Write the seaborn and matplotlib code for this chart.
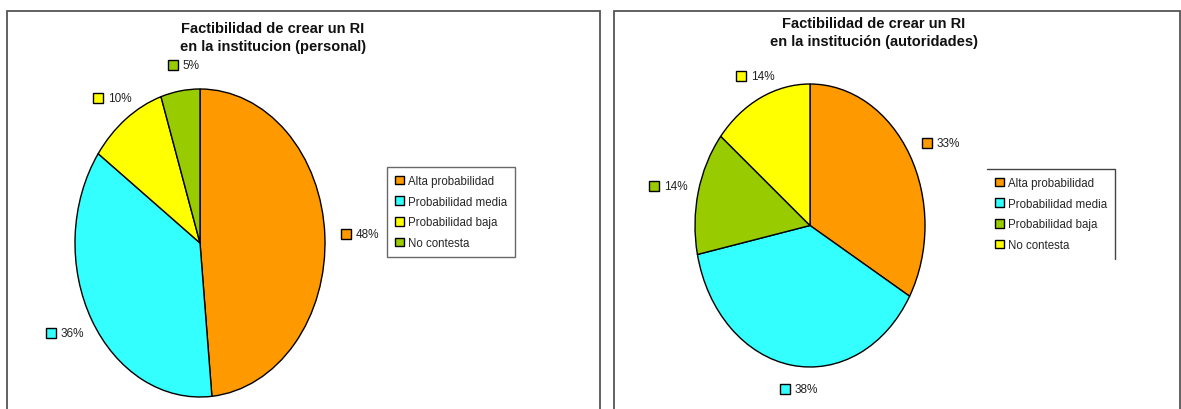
import numpy as np
import matplotlib
matplotlib.use("Agg")
import matplotlib.pyplot as plt
from matplotlib.patches import Rectangle
from matplotlib.lines import Line2D
import seaborn as sns

sns.set_style("white")
plt.rcParams["font.family"] = ["Liberation Sans", "DejaVu Sans"]

# data
labels_personal = ["Alta probabilidad", "Probabilidad media", "Probabilidad baja", "No contesta"]
pct_personal = [48, 36, 10, 5]
colors_personal = ["#FF9900", "#33FFFF", "#FFFF00", "#99CC00"]
title_personal = "Factibilidad de crear un RI\nen la institucion (personal)"

labels_autoridades = ["Alta probabilidad", "Probabilidad media", "Probabilidad baja", "No contesta"]
pct_autoridades = [33, 38, 14, 14]
colors_autoridades = ["#FF9900", "#33FFFF", "#99CC00", "#FFFF00"]
title_autoridades = "Factibilidad de crear un RI\nen la institución (autoridades)"

W, H = 1181, 410
fig = plt.figure(figsize=(W / 100, H / 100), dpi=100)
fig.patch.set_facecolor("white")


def px(x0, y0, w, h):
    # pixel box (top-left origin) -> figure fraction
    return [x0 / W, (H - y0 - h) / H, w / W, h / H]


# panel frames
for x0, x1 in [(7, 600), (614, 1180)]:
    fig.add_artist(Rectangle((x0 / W, -0.05), (x1 - x0) / W, (H - 12) / H + 0.05,
                             transform=fig.transFigure, fill=False,
                             edgecolor="#555555", lw=1.3))


def draw_pie(box, vals, cols, labs, title, title_xy, leg_xy, open_frame=False):
    ax = fig.add_axes(px(*box))
    wedges, _ = ax.pie(vals, colors=cols, startangle=90, counterclock=False,
                       wedgeprops=dict(edgecolor="black", linewidth=1.0))
    ax.set_aspect("auto")
    ax.set_xlim(-1, 1)
    ax.set_ylim(-1, 1)
    ax.axis("off")
    # labels on the left side sit further out (box is left of the anchor)
    shift = 26 / (box[2] / 2)
    for w, v, c in zip(wedges, vals, cols):
        ang = np.deg2rad((w.theta1 + w.theta2) / 2)
        x, y = 1.17 * np.cos(ang), 1.17 * np.sin(ang)
        if np.cos(ang) < 0:
            x -= shift * (-np.cos(ang))
        ax.plot([x], [y], marker="s", ms=7, mfc=c, mec="black", mew=1.0,
                clip_on=False)
        ax.annotate(f"{v}%", xy=(x, y), xytext=(7, 0), textcoords="offset points",
                    ha="left", va="center", fontsize=8.5, color="#222222",
                    annotation_clip=False)
    fig.text(title_xy[0] / W, 1 - title_xy[1] / H, title, ha="center", va="center",
             fontsize=10.5, fontweight="bold", color="#111111", linespacing=1.35)
    handles = [Rectangle((0, 0), 1, 1, facecolor=c, edgecolor="black", lw=1.0) for c in cols]
    leg = fig.legend(handles, labs, loc="upper left",
                     bbox_to_anchor=(leg_xy[0] / W, 1 - leg_xy[1] / H),
                     fontsize=8.3, frameon=not open_frame, fancybox=False,
                     handlelength=0.8, handleheight=0.8, handletextpad=0.3,
                     labelspacing=0.75, borderpad=0.7, borderaxespad=0)
    if not open_frame:
        leg.get_frame().set_edgecolor("#444444")
        leg.get_frame().set_linewidth(1.0)
    return leg


draw_pie((75, 90, 250, 308), pct_personal, colors_personal, labels_personal,
         title_personal, (273, 38), (387, 168))
leg2 = draw_pie((695, 85, 230, 283), pct_autoridades, colors_autoridades, labels_autoridades,
                title_autoridades, (874, 33), (987, 170), open_frame=True)

# right legend has only top and right edges
fig.canvas.draw()
bb = leg2.get_window_extent().transformed(fig.transFigure.inverted())
fig.add_artist(Line2D([bb.x0, bb.x1, bb.x1], [bb.y1, bb.y1, bb.y0],
                      transform=fig.transFigure, color="#444444", lw=1.0))

fig.savefig("out.png", dpi=100, facecolor="white")
